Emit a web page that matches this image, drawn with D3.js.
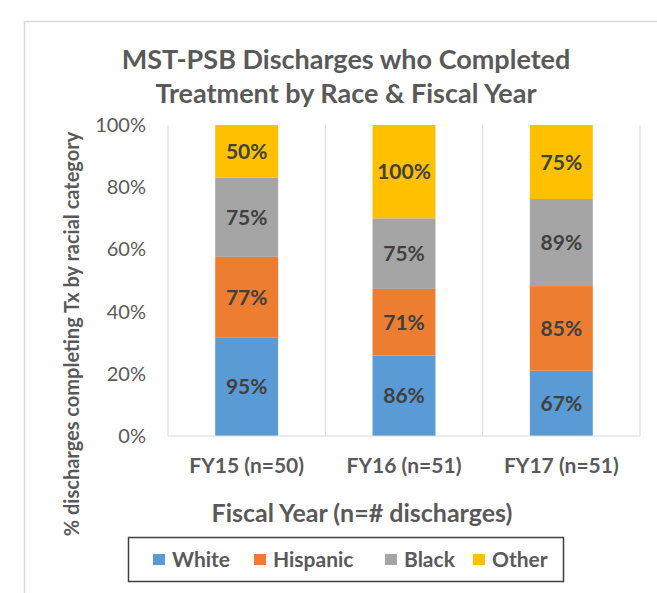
<!DOCTYPE html>
<html>
<head>
<meta charset="utf-8">
<script src="https://cdn.jsdelivr.net/npm/d3@7"></script>
<style>
  body { margin: 0; background: #fff; }
  text { font-family: Lato, "Open Sans", sans-serif; }
</style>
</head>
<body>
<div id="vis1"></div>
<script>
// data: share of each fiscal year's bar (in %)
let years = ['FY15 (n=50)', 'FY16 (n=51)', 'FY17 (n=51)'];
let races = ['White', 'Hispanic', 'Black', 'Other'];
let white = [31.6, 25.9, 21.0];
let hispanic = [26.0, 21.4, 27.2];
let black = [25.5, 22.7, 28.0];
let other = [16.9, 30.0, 23.8];
// the labels shown in the segments (completion rates)
let whiteLabels = ['95%', '86%', '67%'];
let hispanicLabels = ['77%', '71%', '85%'];
let blackLabels = ['75%', '75%', '89%'];
let otherLabels = ['50%', '100%', '75%'];
let yTicks = [0, 20, 40, 60, 80, 100];

let colors = ['#5b9bd5', '#ed7d31', '#a5a5a5', '#ffc000'];
let seriesVals = [white, hispanic, black, other];
let seriesLabels = [whiteLabels, hispanicLabels, blackLabels, otherLabels];

let width = 657, height = 593;
let plot = { left: 168, right: 640, top: 125, bottom: 436 };

let svg = d3.select('#vis1')
  .append('svg')
  .attr('width', width)
  .attr('height', height)
  .style('background-color', '#fff');

// chart frame (runs off the right and bottom edges)
svg.append('rect')
  .attr('x', 24.5)
  .attr('y', 21.5)
  .attr('width', 700)
  .attr('height', 700)
  .attr('fill', 'none')
  .attr('stroke', '#d9d9d9')
  .attr('stroke-width', 1.5);

// build rows for d3.stack
let table = years.map((y, i) => {
  let row = { year: y };
  races.forEach((r, j) => { row[r] = seriesVals[j][i]; });
  return row;
});
let stacked = d3.stack().keys(races)(table);

let x = d3.scaleBand()
  .domain(years)
  .range([plot.left, plot.right])
  .paddingInner(0.6)
  .paddingOuter(0.3);

let y = d3.scaleLinear()
  .domain([0, 100])
  .range([plot.bottom, plot.top]);

// vertical category separators
let step = x.step();
let seps = d3.range(years.length + 1).map(i => plot.left + i * step);
svg.selectAll('.sep')
  .data(seps)
  .enter()
  .append('line')
  .attr('x1', d => d)
  .attr('x2', d => d)
  .attr('y1', plot.top)
  .attr('y2', plot.bottom)
  .attr('stroke', '#d9d9d9')
  .attr('stroke-width', 1);

// bars
let groups = svg.selectAll('.series')
  .data(stacked)
  .enter()
  .append('g')
  .attr('fill', (d, i) => colors[i]);

groups.selectAll('rect')
  .data(d => d)
  .enter()
  .append('rect')
  .attr('x', d => x(d.data.year))
  .attr('y', d => y(d[1]))
  .attr('width', x.bandwidth())
  .attr('height', d => y(d[0]) - y(d[1]));

// segment labels
stacked.forEach((s, j) => {
  svg.selectAll('.lab' + j)
    .data(s)
    .enter()
    .append('text')
    .attr('x', d => x(d.data.year) + x.bandwidth() / 2)
    .attr('y', d => (y(d[0]) + y(d[1])) / 2)
    .attr('dy', '0.36em')
    .attr('text-anchor', 'middle')
    .attr('font-size', 21)
    .attr('font-weight', 'bold')
    .attr('fill', '#404040')
    .text((d, i) => seriesLabels[j][i]);
});

// bottom axis line
svg.append('line')
  .attr('x1', plot.left)
  .attr('x2', plot.right)
  .attr('y1', plot.bottom)
  .attr('y2', plot.bottom)
  .attr('stroke', '#d9d9d9');

// y axis
let yAxis = svg.append('g')
  .attr('transform', 'translate(' + (plot.left - 22) + ',0)')
  .call(d3.axisLeft(y).tickValues(yTicks).tickFormat(d => d + '%').tickSize(0).tickPadding(0));
yAxis.select('.domain').remove();
yAxis.selectAll('text')
  .attr('font-size', 20)
  .attr('fill', '#595959')
  .style('font-family', 'Lato, sans-serif');

// x axis
let xAxis = svg.append('g')
  .attr('transform', 'translate(0,' + plot.bottom + ')')
  .call(d3.axisBottom(x).tickSize(0).tickPadding(22));
xAxis.select('.domain').remove();
xAxis.selectAll('text')
  .attr('font-size', 21)
  .attr('font-weight', 'bold')
  .attr('fill', '#595959')
  .style('font-family', 'Lato, sans-serif');

// title
let title = svg.append('text')
  .attr('x', 346)
  .attr('y', 69)
  .attr('text-anchor', 'middle')
  .attr('font-size', 27)
  .attr('font-weight', 'bold')
  .attr('fill', '#595959');
title.append('tspan').attr('x', 346).text('MST-PSB Discharges who Completed');
title.append('tspan').attr('x', 346).attr('dy', 34).text('Treatment by Race & Fiscal Year');

// axis titles
svg.append('text')
  .attr('x', 362)
  .attr('y', 522)
  .attr('text-anchor', 'middle')
  .attr('font-size', 25)
  .attr('font-weight', 'bold')
  .attr('fill', '#595959')
  .text('Fiscal Year (n=# discharges)');

svg.append('text')
  .attr('transform', 'translate(79,334) rotate(-90)')
  .attr('text-anchor', 'middle')
  .attr('font-size', 20)
  .attr('font-weight', 'bold')
  .attr('fill', '#595959')
  .text('% discharges completing Tx by racial category');

// legend
let legend = svg.append('g');
legend.append('rect')
  .attr('x', 128.5)
  .attr('y', 537.5)
  .attr('width', 435)
  .attr('height', 44)
  .attr('fill', '#fff')
  .attr('stroke', '#404040')
  .attr('stroke-width', 1.5);

let legendX = [153, 254, 385, 473];
let items = legend.selectAll('.item')
  .data(races)
  .enter()
  .append('g')
  .attr('transform', (d, i) => 'translate(' + legendX[i] + ',554)');
items.append('rect')
  .attr('width', 12)
  .attr('height', 11)
  .attr('fill', (d, i) => colors[i]);
items.append('text')
  .attr('x', 19)
  .attr('y', 13)
  .attr('font-size', 21)
  .attr('font-weight', 'bold')
  .attr('fill', '#595959')
  .text(d => d);
</script>
</body>
</html>
